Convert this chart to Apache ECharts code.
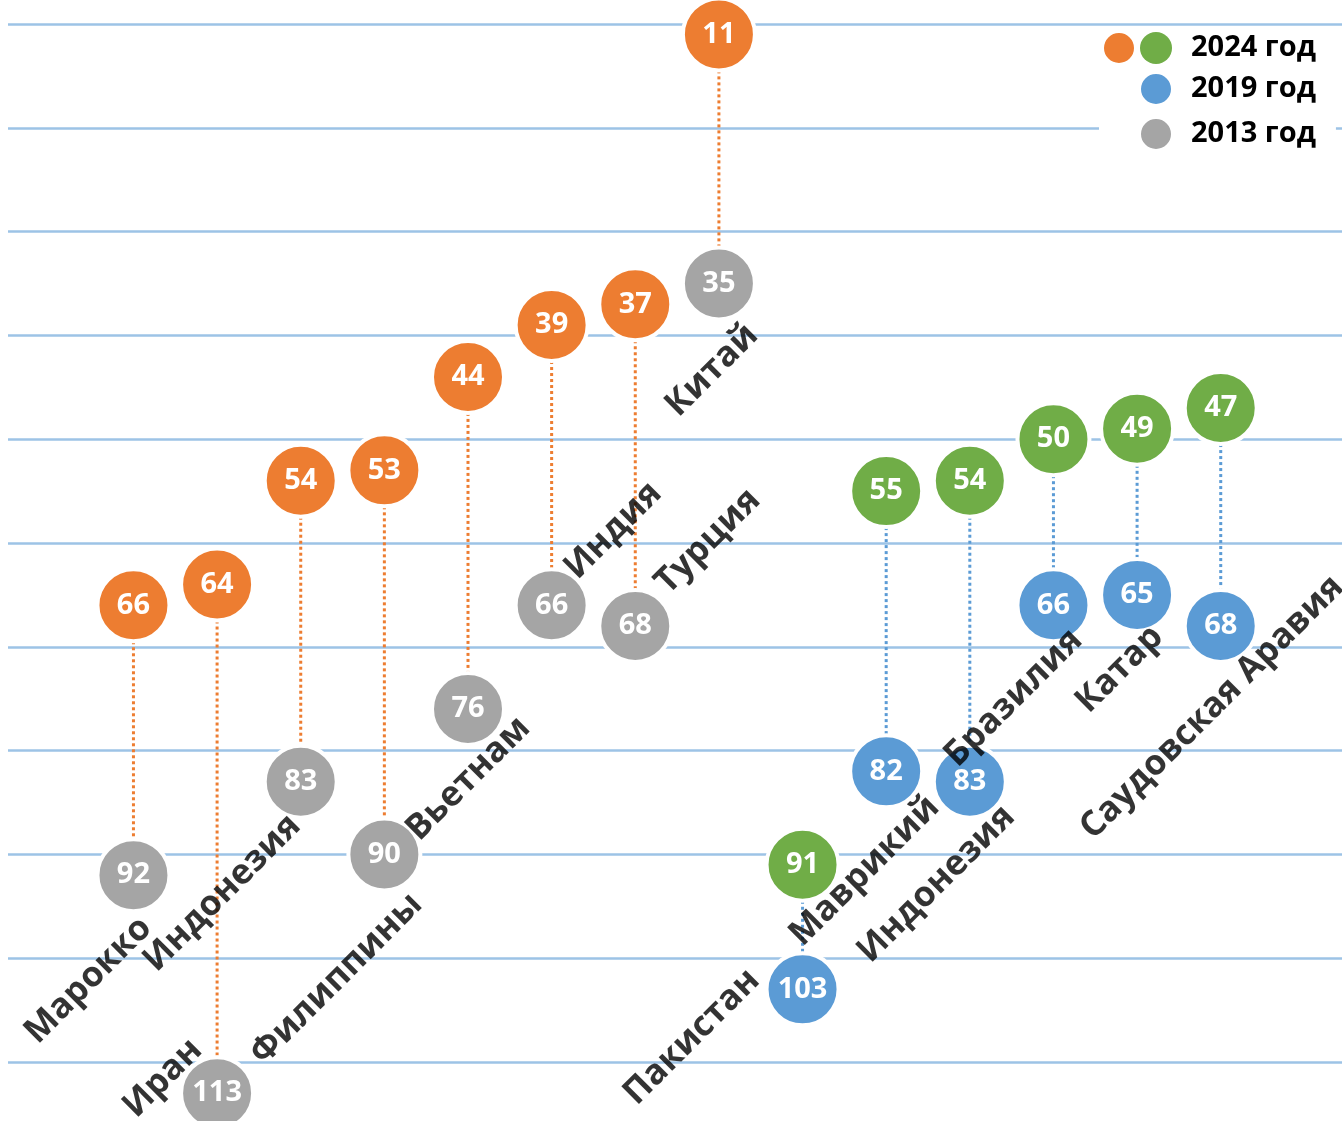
<!DOCTYPE html>
<html>
<head>
<meta charset="utf-8">
<script src="https://cdn.jsdelivr.net/npm/echarts@6/dist/echarts.min.js"></script>
<style>
html,body{margin:0;padding:0;background:#fff;}
#chart{width:1342px;height:1121px;}
</style>
</head>
<body>
<div id="chart"></div>
<script>
// ---- data ----
const group1 = ['Марокко', 'Иран', 'Индонезия', 'Филиппины', 'Вьетнам', 'Индия', 'Турция', 'Китай'];
const group1_2024 = [66, 64, 54, 53, 44, 39, 37, 11];
const group1_2013 = [92, 113, 83, 90, 76, 66, 68, 35];
const group2 = ['Пакистан', 'Маврикий', 'Индонезия', 'Бразилия', 'Катар', 'Саудовская Аравия'];
const group2_2024 = [91, 55, 54, 50, 49, 47];
const group2_2019 = [103, 82, 83, 66, 65, 68];
const legendNames = ['2024 год', '2019 год', '2013 год'];

// ---- style ----
const ORANGE = '#ED7D31', GREEN = '#70AD47', BLUE = '#5B9BD5', GRAY = '#A5A5A5';
const FONT = 'Open Sans';
// screen offset of the right end of each name label from its lower marker
const nameLabelOffsets = [
  [13, 48], [-20, -48], [-5, 39], [33, 45], [57, 14], [105, -117], [120, -131], [34, 47],
  [-48, -14], [48, 31], [40, 30], [24, 30], [21, 37], [118, -44]
];

const categories = group1.concat(group2);
const n1 = group1.length;
const olderValues = group1_2013.concat(group2_2019);

const orangeData = group1_2024.map((v, i) => [i, v]);
const grayData = group1_2013.map((v, i) => [i, v]);
const greenData = group2_2024.map((v, i) => [n1 + i, v]);
const blueData = group2_2019.map((v, i) => [n1 + i, v]);
const connectorData = group1_2024.map((v, i) => [i, v, group1_2013[i], 0])
  .concat(group2_2024.map((v, i) => [n1 + i, v, group2_2019[i], 1]));
const nameData = categories.map((c, i) => ({
  value: [i, olderValues[i]],
  label: { position: nameLabelOffsets[i] }
}));

const circleLabel = {
  show: true, position: 'inside', color: '#fff', fontWeight: 'bold',
  fontFamily: FONT, fontSize: 29,
  formatter: p => p.value[1]
};
function dotSeries(name, data, color) {
  return {
    name, type: 'scatter', data, symbol: 'circle', symbolSize: 72, clip: false, z: 5,
    itemStyle: { color, opacity: 1, borderColor: '#fff', borderWidth: 4 },
    label: circleLabel, emphasis: { disabled: true }
  };
}

const chart = echarts.init(document.getElementById('chart'), null, { renderer: 'canvas' });
chart.setOption({
  animation: false,
  backgroundColor: '#fff',
  grid: { left: 8, right: 0, top: 24, bottom: 59, containLabel: false },
  xAxis: {
    type: 'value', min: -1.5, max: 14.45, show: false, splitLine: { show: false }
  },
  yAxis: {
    type: 'value', inverse: true, min: 10, max: 110, interval: 10,
    axisLine: { show: false }, axisTick: { show: false }, axisLabel: { show: false },
    splitLine: { lineStyle: { color: '#9DC3E6', width: 2.5 } }
  },
  legend: [
    {
      data: [{ name: legendNames[0], itemStyle: { color: ORANGE } }],
      left: 1097, top: 29, padding: [2, 20, 2, 5],
      backgroundColor: '#fff', icon: 'circle', itemWidth: 32, itemHeight: 32,
      selectedMode: false,
      formatter: name => '{g| }{t|' + name + '}',
      textStyle: {
        fontFamily: FONT, fontWeight: 'bold', fontSize: 29, color: '#000',
        rich: {
          g: { width: 32, height: 32, borderRadius: 16, backgroundColor: GREEN },
          t: { fontFamily: FONT, fontWeight: 'bold', fontSize: 29, color: '#000', padding: [0, 0, 0, 19] }
        }
      }
    },
    {
      data: [legendNames[1], legendNames[2]],
      orient: 'vertical', left: 1099, top: 67, padding: [5, 20, 5, 40], itemGap: 11,
      backgroundColor: '#fff', icon: 'circle', itemWidth: 32, itemHeight: 32,
      selectedMode: false,
      formatter: name => '{t|' + name + '}',
      textStyle: {
        fontFamily: FONT, fontWeight: 'bold', fontSize: 29, color: '#000',
        rich: {
          t: { fontFamily: FONT, fontWeight: 'bold', fontSize: 29, color: '#000', padding: [0, 0, 0, 14] }
        }
      }
    }
  ],
  series: [
    {
      type: 'custom', name: 'connectors', z: 1, clip: false,
      data: connectorData,
      renderItem: (params, api) => {
        const a = api.coord([api.value(0), api.value(1)]);
        const b = api.coord([api.value(0), api.value(2)]);
        return {
          type: 'line',
          shape: { x1: a[0], y1: a[1], x2: b[0], y2: b[1] },
          style: { stroke: api.value(3) === 0 ? ORANGE : BLUE, lineWidth: 3, lineDash: [3, 3] }
        };
      }
    },
    dotSeries(legendNames[0], orangeData, ORANGE),
    dotSeries(legendNames[0], greenData, GREEN),
    dotSeries(legendNames[1], blueData, BLUE),
    dotSeries(legendNames[2], grayData, GRAY),
    {
      type: 'scatter', name: 'names', data: nameData, symbolSize: 1, clip: false, z: 6,
      itemStyle: { color: 'rgba(0,0,0,0)' }, emphasis: { disabled: true },
      label: {
        show: true, rotate: 45, align: 'right', verticalAlign: 'middle',
        fontFamily: FONT, fontWeight: 'bold', fontSize: 35, color: '#000',
        formatter: p => categories[p.dataIndex]
      }
    }
  ]
});
</script>
</body>
</html>
